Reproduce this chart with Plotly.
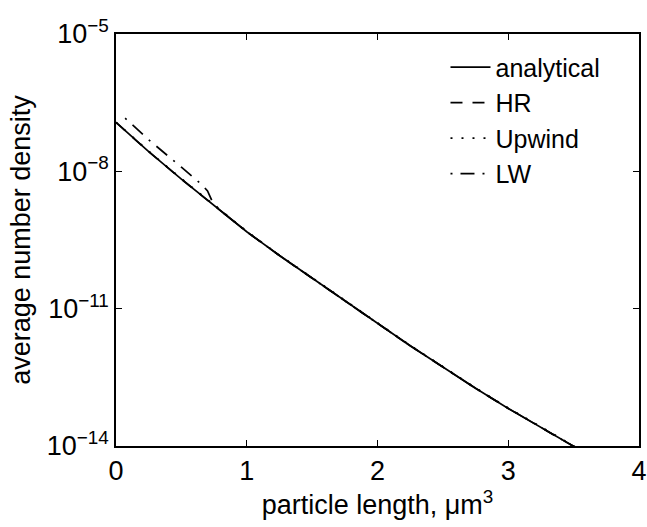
import plotly.graph_objects as go

# Data (log10 of average number density)
x_analytical = [0.0, 0.25, 0.5, 0.75, 1.0, 1.25, 1.5, 1.75, 2.0, 2.25, 2.5, 2.75, 3.0, 3.25, 3.5, 3.75, 4.0]
log_analytical = [-6.93, -7.57, -8.17, -8.75, -9.32, -9.84, -10.34, -10.84, -11.32, -11.81,
                  -12.28, -12.74, -13.18, -13.60, -14.02, -14.42, -14.82]

x_hr = [0.0, 0.25, 0.5, 0.75, 1.0, 1.25, 1.5, 1.75, 2.0, 2.25, 2.5, 2.75, 3.0, 3.25, 3.5, 3.75, 4.0]
log_hr = [-6.93, -7.57, -8.17, -8.75, -9.32, -9.84, -10.34, -10.84, -11.32, -11.81,
          -12.28, -12.74, -13.18, -13.60, -14.02, -14.42, -14.82]

x_upwind = [0.0, 0.25, 0.5, 0.75, 1.0, 1.25, 1.5, 1.75, 2.0, 2.25, 2.5, 2.75, 3.0, 3.25, 3.5, 3.75, 4.0]
log_upwind = [-6.93, -7.56, -8.16, -8.74, -9.31, -9.83, -10.33, -10.83, -11.31, -11.80,
              -12.27, -12.73, -13.17, -13.59, -14.01, -14.41, -14.81]

x_lw = [0.07, 0.25, 0.5, 0.6, 0.66, 0.70, 0.74, 0.8, 1.0, 1.25, 1.5, 1.75, 2.0, 2.25, 2.5, 2.75, 3.0, 3.25, 3.5, 3.75, 4.0]
log_lw = [-6.84, -7.31, -7.91, -8.16, -8.30, -8.43, -8.68, -8.86, -9.32, -9.84, -10.34, -10.84,
          -11.32, -11.81, -12.28, -12.74, -13.18, -13.60, -14.02, -14.42, -14.82]

y_tick_exp = [-5, -8, -11, -14]
x_ticks = [0, 1, 2, 3, 4]

FONT = "Liberation Sans, Arial, sans-serif"
FS = 27

def to_val(logs):
    return [10 ** v for v in logs]

fig = go.Figure()
fig.add_trace(go.Scatter(x=x_analytical, y=to_val(log_analytical), mode="lines", name="analytical",
                         line=dict(color="black", width=1.7, dash="solid")))
fig.add_trace(go.Scatter(x=x_hr, y=to_val(log_hr), mode="lines", name="HR",
                         line=dict(color="black", width=1.7, dash="12px,10px")))
fig.add_trace(go.Scatter(x=x_upwind, y=to_val(log_upwind), mode="lines", name="Upwind",
                         line=dict(color="black", width=1.7, dash="2px,9px")))
fig.add_trace(go.Scatter(x=x_lw, y=to_val(log_lw), mode="lines", name="LW",
                         line=dict(color="black", width=1.7, dash="2px,8px,14px,8px")))

fig.update_layout(
    width=647, height=527,
    margin=dict(l=116, r=8, t=34, b=81, autoexpand=False),
    paper_bgcolor="white", plot_bgcolor="white",
    font=dict(family=FONT, size=FS, color="black"),
    showlegend=True,
    legend=dict(x=0.63, y=0.975, xanchor="left", yanchor="top",
                bgcolor="rgba(0,0,0,0)", borderwidth=0,
                font=dict(family=FONT, size=25, color="black"),
                itemwidth=40, tracegroupgap=0),
)

fig.update_xaxes(
    range=[0, 4], tickvals=x_ticks, ticktext=[str(t) for t in x_ticks],
    showline=True, linecolor="black", linewidth=1.5, mirror="ticks",
    ticks="inside", ticklen=6, tickcolor="black", tickwidth=1.2,
    showgrid=False, zeroline=False, automargin=False, ticklabeloverflow="allow",
    tickfont=dict(family=FONT, size=FS, color="black"),
    title=dict(text="particle length, μm<sup>3</sup>", font=dict(family=FONT, size=FS), standoff=6),
)
fig.update_yaxes(
    type="log", range=[-14, -5],
    tickvals=[10 ** e for e in y_tick_exp],
    ticktext=["10<sup>\u2212%d</sup>" % (-e) for e in y_tick_exp],
    showline=True, linecolor="black", linewidth=1.5, mirror="ticks",
    ticks="inside", ticklen=6, tickcolor="black", tickwidth=1.2,
    showgrid=False, zeroline=False, automargin=False, ticklabeloverflow="allow",
    tickfont=dict(family=FONT, size=FS, color="black"),
    title=dict(text="average number density", font=dict(family=FONT, size=FS), standoff=8),
)

fig.write_html(
    "out.html",
    config={"displayModeBar": False},
    post_script="document.body.style.margin='0';document.body.style.overflow='hidden';",
)
